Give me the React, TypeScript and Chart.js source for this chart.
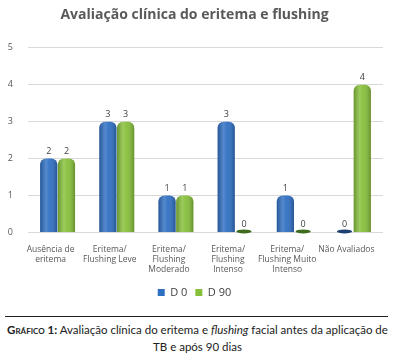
import React, { useEffect, useRef } from "react";
import { Chart, registerables } from "chart.js";

Chart.register(...registerables);

const categories: string[][] = [
  ["Ausência de", "eritema"],
  ["Eritema/", "Flushing Leve"],
  ["Eritema/", "Flushing", "Moderado"],
  ["Eritema/", "Flushing", "Intenso"],
  ["Eritema/", "Flushing Muito", "Intenso"],
  ["Não Avaliados"],
];
const d0Values = [2, 3, 1, 3, 1, 0];
const d90Values = [2, 3, 1, 0, 0, 4];
const seriesNames = ["D 0", "D 90"];
const yTicks = [0, 1, 2, 3, 4, 5];
const seriesColors = ["#2f6fc2", "#86bf3a"];
const zeroColors = ["#1e3f70", "#3f6b1c"];

const cylinderShade = {
  id: "cylinderShade",
  afterDatasetsDraw(chart: any) {
    const ctx = chart.ctx;
    ctx.save();
    chart.data.datasets.forEach((ds: any, i: number) => {
      const meta = chart.getDatasetMeta(i);
      meta.data.forEach((bar: any, j: number) => {
        const { x, y, base, width } = bar.getProps(["x", "y", "base", "width"], true);
        const left = x - width / 2;
        if (ds.data[j] === 0) {
          ctx.fillStyle = zeroColors[i];
          ctx.beginPath();
          ctx.ellipse(x, base - 1, width / 2 - 1, 2, 0, 0, Math.PI * 2);
          ctx.fill();
          return;
        }
        const g = ctx.createLinearGradient(left, 0, left + width, 0);
        g.addColorStop(0, "rgba(0,0,0,0.22)");
        g.addColorStop(0.35, "rgba(255,255,255,0.18)");
        g.addColorStop(0.55, "rgba(255,255,255,0.05)");
        g.addColorStop(1, "rgba(0,0,0,0.25)");
        ctx.fillStyle = g;
        ctx.beginPath();
        ctx.roundRect(left, y, width, base - y, [6, 6, 0, 0]);
        ctx.fill();
      });
    });
    ctx.restore();
  },
};

const valueLabels = {
  id: "valueLabels",
  afterDatasetsDraw(chart: any) {
    const ctx = chart.ctx;
    ctx.save();
    ctx.font = "9px 'Open Sans', sans-serif";
    ctx.fillStyle = "#404040";
    ctx.textAlign = "center";
    ctx.textBaseline = "bottom";
    chart.data.datasets.forEach((ds: any, i: number) => {
      const meta = chart.getDatasetMeta(i);
      meta.data.forEach((bar: any, j: number) => {
        ctx.fillText(String(ds.data[j]), bar.x, bar.y - 3);
      });
    });
    ctx.restore();
  },
};

function App() {
  const ref = useRef<HTMLCanvasElement>(null);
  useEffect(() => {
    if (!ref.current) return;
    const chart = new Chart(ref.current, {
      type: "bar",
      data: {
        labels: categories,
        datasets: [
          {
            label: seriesNames[0],
            data: d0Values,
            backgroundColor: seriesColors[0],
            borderWidth: 0,
            borderRadius: { topLeft: 6, topRight: 6 },
            borderSkipped: "bottom",
          },
          {
            label: seriesNames[1],
            data: d90Values,
            backgroundColor: seriesColors[1],
            borderWidth: 0,
            borderRadius: { topLeft: 6, topRight: 6 },
            borderSkipped: "bottom",
          },
        ],
      },
      options: {
        responsive: false,
        animation: false,
        layout: { padding: { left: 6, right: 12, top: 0, bottom: 0 } },
        datasets: {
          bar: { categoryPercentage: 0.6, barPercentage: 0.97 },
        },
        plugins: {
          title: {
            display: true,
            text: "Avaliação clínica do eritema e flushing",
            color: "#595959",
            font: { family: "'Open Sans', sans-serif", size: 14, weight: "bold" },
            padding: { top: 7, bottom: 24 },
          },
          legend: {
            position: "bottom",
            labels: {
              boxWidth: 7,
              boxHeight: 7,
              color: "#404040",
              font: { family: "'Open Sans', sans-serif", size: 11 },
              padding: 8,
            },
          },
          tooltip: { enabled: false },
        },
        scales: {
          x: {
            grid: { display: false },
            border: { display: false },
            ticks: {
              color: "#595959",
              font: { family: "'Open Sans', sans-serif", size: 8.5, lineHeight: 1.2 },
              maxRotation: 0,
              autoSkip: false,
              padding: 4,
              labelOffset: -7,
            },
          },
          y: {
            min: 0,
            max: 5,
            afterBuildTicks: (axis: any) => {
              axis.ticks = yTicks.map((v) => ({ value: v }));
            },
            afterFit: (axis: any) => {
              axis.width = 22;
            },
            grid: { color: "#d9d9d9", drawTicks: false },
            border: { display: false },
            ticks: {
              color: "#595959",
              font: { family: "'Open Sans', sans-serif", size: 9 },
              padding: 15,
            },
          },
        },
      },
      plugins: [cylinderShade, valueLabels],
    });
    return () => chart.destroy();
  }, []);

  return (
    <div
      style={{
        position: "fixed",
        left: 0,
        top: 0,
        width: 395,
        height: 358,
        background: "#fff",
        fontFamily: "'Open Sans', sans-serif",
      }}
    >
      <canvas ref={ref} width={395} height={308} style={{ position: "absolute", left: 0, top: 0 }} />
      <div
        style={{
          position: "absolute",
          left: 5,
          top: 316,
          width: 383,
          borderTop: "1px solid #222",
        }}
      />
      <div
        style={{
          position: "absolute",
          left: 0,
          top: 321,
          width: 395,
          textAlign: "center",
          fontFamily: "Lato, sans-serif",
          fontSize: 11.5,
          lineHeight: "17px",
          color: "#222",
        }}
      >
        <span style={{ fontVariant: "small-caps", fontWeight: 700 }}>Gráfico 1:</span> Avaliação
        clínica do eritema e <i>flushing</i> facial antes da aplicação de TB e após 90 dias
      </div>
    </div>
  );
}

export default App;
